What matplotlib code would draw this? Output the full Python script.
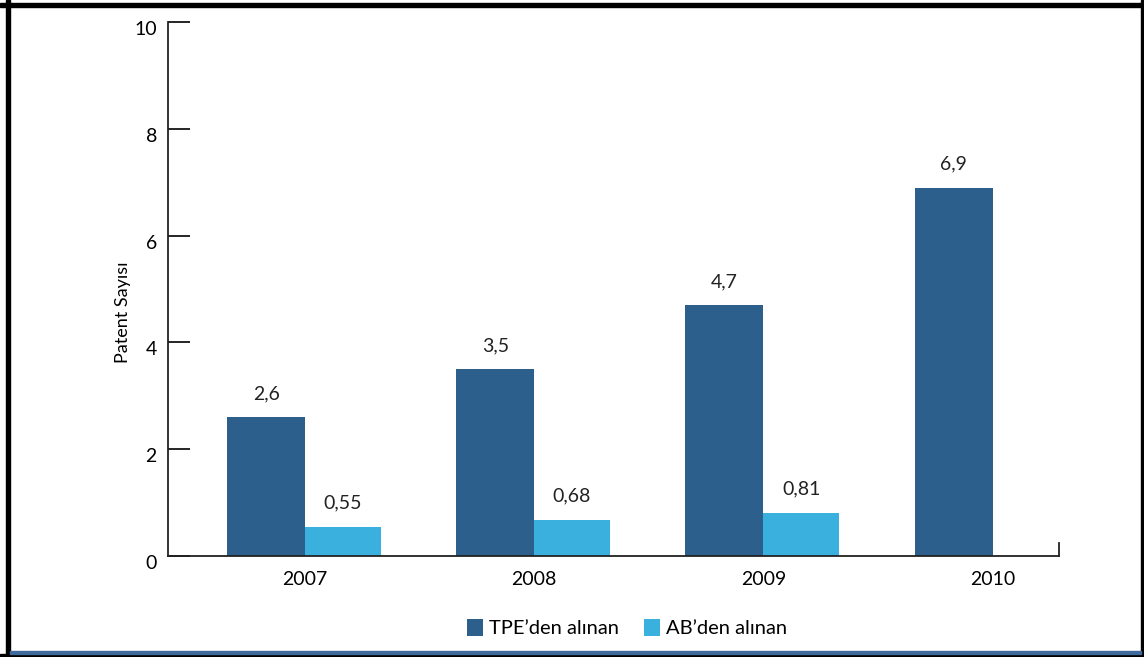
import matplotlib.pyplot as plt
import matplotlib.transforms as mtransforms
from matplotlib.patches import Rectangle
import numpy as np

plt.rcParams['font.family'] = ['Lato', 'DejaVu Sans']

years = ["2007", "2008", "2009", "2010"]
tpe = [2.6, 3.5, 4.7, 6.9]
ab = [0.55, 0.68, 0.81, None]
tpe_labels = ["2,6", "3,5", "4,7", "6,9"]
ab_labels = ["0,55", "0,68", "0,81", ""]

c_tpe = "#2c5f8c"
c_ab = "#3ab0de"

fig = plt.figure(figsize=(11.44, 6.57), dpi=100)
W, H = 1144, 657
ax = fig.add_axes([168 / W, 1 - 556 / H, (1059 - 168) / W, (556 - 22) / H])

x = np.arange(len(years))
w = 0.34
ab_vals = [v if v is not None else 0 for v in ab]
b1 = ax.bar(x, tpe, width=-w, align="edge", color=c_tpe, label="TPE\u2019den alınan")
b2 = ax.bar(x[:3], ab_vals[:3], width=0.33, align="edge", color=c_ab, label="AB\u2019den alınan")

for xi, v, t in zip(x, tpe, tpe_labels):
    ax.text(xi - w / 2, v + 0.28, t, ha="center", va="bottom", fontsize=14, color="#222222")
for xi, v, t in zip(x[:3], ab_vals[:3], ab_labels[:3]):
    ax.text(xi + 0.165, v + 0.28, t, ha="center", va="bottom", fontsize=14, color="#222222")

ax.set_xlim(-0.598, 3.29)
ax.set_ylim(0, 10)
ax.set_yticks([0, 2, 4, 6, 8, 10])
ax.set_xticks(x)
ax.set_xticklabels(years)
ax.tick_params(axis="y", direction="in", length=16, width=1.2, pad=8, labelsize=14)
ax.tick_params(axis="x", length=0, pad=11, labelsize=14)
for s in ["top", "right"]:
    ax.spines[s].set_visible(False)
for s in ["left", "bottom"]:
    ax.spines[s].set_linewidth(1.3)
    ax.spines[s].set_color("#222222")
# small end tick at the right of the x axis
ax.plot([1, 1], [0, 0.025], transform=ax.transAxes, color="#222222", lw=1.3, clip_on=False)

# y tick labels sit a little below their ticks in the original
shift = mtransforms.ScaledTranslation(0, -0.06, fig.dpi_scale_trans)
for lbl in ax.get_yticklabels():
    lbl.set_transform(lbl.get_transform() + shift)

ax.set_ylabel("Patent Sayısı", fontsize=13)
ax.yaxis.set_label_coords(-0.042, 0.457)

fig.legend(handles=[b1, b2], loc="center", bbox_to_anchor=(627 / W, 1 - 628 / H), ncol=2,
           frameon=False, fontsize=14.5, handlelength=0.8, handleheight=0.9,
           handletextpad=0.3, columnspacing=1.2)

# frame around the picture
fig.patches.append(Rectangle((6 / W, 0), 4 / W, 1, transform=fig.transFigure, color="black"))
fig.patches.append(Rectangle((0, 1 - 7 / H), 1, 4 / H, transform=fig.transFigure, color="black"))
fig.patches.append(Rectangle((1141 / W, 0), 3 / W, 1, transform=fig.transFigure, color="black"))
fig.patches.append(Rectangle((0, 0), 1, 3 / H, transform=fig.transFigure, color="black"))
fig.patches.append(Rectangle((10 / W, 3 / H), 1131 / W, 3 / H, transform=fig.transFigure, color="#3f6a9a"))

fig.savefig("out.png", dpi=100)
